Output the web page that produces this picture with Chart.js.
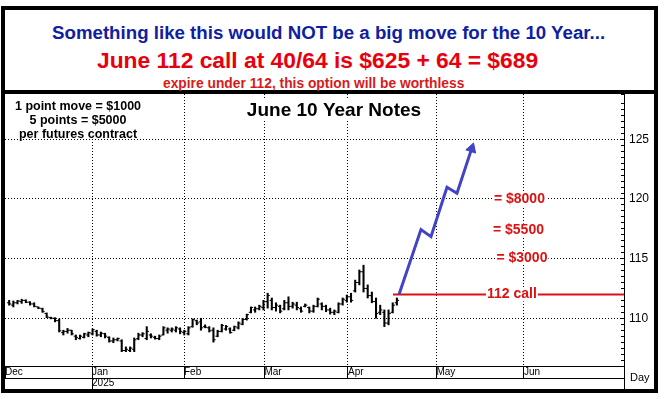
<!DOCTYPE html>
<html>
<head>
<meta charset="utf-8">
<script src="https://cdn.jsdelivr.net/npm/chart.js@4.4.1/dist/chart.umd.min.js"></script>
<style>
  html, body { margin: 0; padding: 0; background: #fff; }
  body { width: 666px; height: 399px; position: relative; overflow: hidden; font-family: "Liberation Sans", Arial, sans-serif; }
  #frame { position: absolute; left: 1px; top: 6px; width: 649px; height: 379px; border: 4px solid #000; }
  #head { position: absolute; left: 0; top: 0; width: 649px; height: 80px; border-bottom: 4px solid #000; }
  .hl { position: absolute; white-space: nowrap; font-weight: bold; }
  #l1 { left: 47px; top: 14px; font-size: 18.7px; line-height: 18.7px; color: #1020a0; }
  #l2 { left: 92px; top: 39px; font-size: 22.8px; line-height: 22.8px; color: #e8000c; }
  #l3 { left: 158px; top: 67px; font-size: 13.8px; line-height: 13.8px; color: #d61a1a; }
  #c { position: absolute; left: 0; top: 84px; }
  #day { position: absolute; left: 625px; top: 362px; font-size: 11px; line-height: 11px; color: #000; }
</style>
</head>
<body>
<div id="frame">
  <div id="head">
    <div class="hl" id="l1">Something like this would NOT be a big move for the 10 Year...</div>
    <div class="hl" id="l2">June 112 call at 40/64 is $625 + 64 = $689</div>
    <div class="hl" id="l3">expire under 112, this option will be worthless</div>
  </div>
  <canvas id="c" width="649" height="295"></canvas>
  <div id="day">Day</div>
</div>
<script>
// daily bars, Dec 2024 .. mid Apr 2025
const opens = [111.3, 111.1, 111.3, 111.4, 111.5, 111.35, 111.2, 110.95, 110.8, 110.4, 110.05, 110.0, 109.8, 108.8, 108.9, 109.0, 108.5, 108.3, 108.4, 108.6, 108.7,
  108.9, 108.6, 108.7, 108.4, 108.1, 108.2, 108.1, 107.3, 107.3, 107.4, 108.3, 108.6, 108.3, 108.6, 108.4, 108.3, 108.6, 109.0, 109.0, 109.0, 109.1,
  108.8, 108.7, 109.3, 109.8, 109.7, 109.3, 109.2, 109.0, 108.5, 108.9, 109.1, 109.1, 109.0, 109.2, 109.5, 109.9, 110.5, 110.7, 110.8,
  110.9, 111.4, 111.5, 110.9, 111.0, 110.8, 111.3, 111.0, 111.1, 110.8, 111.0, 110.9, 110.6, 111.0, 111.2, 111.0, 110.7, 110.5, 110.5, 111.2, 111.5,
  111.8, 112.3, 113.0, 113.9, 112.5, 111.9, 111.4, 110.5, 110.5, 109.6, 110.5, 111.3];
const highs = [111.5, 111.45, 111.5, 111.6, 111.55, 111.4, 111.3, 110.95, 110.85, 110.45, 110.1, 110.05, 109.95, 109.0, 109.15, 109.0, 108.6, 108.6, 108.75, 108.85, 109.1,
  109.0, 108.85, 108.75, 108.45, 108.35, 108.35, 108.2, 107.6, 107.6, 108.35, 108.75, 108.8, 109.3, 108.7, 108.5, 108.6, 109.3, 109.2, 109.2, 109.3, 109.2,
  109.0, 109.3, 109.95, 109.85, 110.0, 109.45, 109.3, 109.2, 109.0, 109.5, 109.4, 109.2, 109.35, 109.7, 110.0, 110.35, 110.95, 110.95, 111.1,
  111.5, 112.1, 111.7, 111.3, 111.1, 111.5, 111.8, 111.35, 111.35, 110.95, 111.2, 110.95, 111.1, 111.7, 111.3, 111.1, 110.85, 110.7, 111.3, 111.7, 111.95,
  112.1, 113.2, 114.05, 114.45, 112.8, 112.2, 111.7, 111.1, 110.7, 110.7, 111.3, 111.7];
const lows = [111.1, 110.95, 111.2, 111.25, 111.3, 111.1, 110.95, 110.8, 110.5, 110.05, 109.95, 109.7, 108.85, 108.6, 108.75, 108.6, 108.2, 108.25, 108.35, 108.45, 108.6,
  108.5, 108.45, 108.35, 108.0, 107.95, 108.1, 107.2, 107.2, 107.2, 107.2, 108.2, 108.45, 108.2, 108.35, 108.25, 108.2, 108.6, 108.75, 108.85, 108.85, 108.7,
  108.6, 108.6, 109.25, 109.45, 109.0, 109.2, 108.85, 108.0, 108.45, 108.85, 109.0, 108.75, 108.95, 109.1, 109.45, 109.85, 110.45, 110.5, 110.7,
  110.7, 110.85, 110.7, 110.6, 110.45, 110.7, 110.7, 110.85, 110.7, 110.5, 110.95, 110.45, 110.5, 110.95, 110.7, 110.55, 110.35, 110.3, 110.45, 111.1, 111.35,
  111.35, 112.2, 112.8, 112.2, 111.7, 111.3, 110.0, 110.3, 109.3, 109.45, 110.45, 111.1];
const closes = [111.2, 111.3, 111.45, 111.5, 111.35, 111.2, 111.0, 110.85, 110.55, 110.1, 110.0, 109.8, 108.95, 108.9, 109.0, 108.7, 108.4, 108.5, 108.7, 108.8, 109.05,
  108.6, 108.75, 108.5, 108.1, 108.2, 108.3, 107.3, 107.4, 107.5, 108.2, 108.6, 108.7, 108.9, 108.5, 108.3, 108.5, 109.2, 109.1, 109.1, 109.2, 108.9,
  108.9, 109.2, 109.9, 109.6, 109.2, 109.25, 108.95, 108.2, 108.9, 109.4, 109.3, 108.8, 109.3, 109.6, 109.9, 110.3, 110.9, 110.8, 111.0,
  111.4, 111.9, 110.9, 111.1, 110.6, 111.3, 111.0, 111.2, 110.9, 110.6, 111.1, 110.6, 111.0, 111.6, 111.0, 110.7, 110.5, 110.6, 111.2, 111.6, 111.8,
  111.5, 113.0, 113.9, 112.5, 111.9, 111.4, 110.4, 110.7, 109.6, 110.4, 111.1, 111.5];

const monthTicks = [-1, 19.87, 41.94, 61.24, 81.27, 102.5, 123.49];
const monthLabels = ["Dec", "Jan", "Feb", "Mar", "Apr", "May", "Jun"];
const yearTicks = [19.87];
const yearLabels = ["2025"];
const xMin = -1, xMax = 147.48, yMin = 106, yMax = 128.8;

const callStrike = 112;
const callLineX = [92.07, xMax];
const arrowX = [93.51, 98.78, 101.18, 105.02, 107.42, 110.94];
const arrowY = [112, 117.44, 116.84, 120.98, 120.48, 124.22];
const payoffLevels = [120, 117.35, 115.05];
const payoffLabels = ["= $8000", "= $5500", "= $3000"];
const noteLines = ["1 point move = $1000", "5 points = $5000", "per futures contract"];
const chartTitle = "June 10 Year Notes";

const FAM = '"Liberation Sans", Arial, sans-serif';
const RED = "#dd1111", BLUE = "#4343c6";
Chart.defaults.font.family = FAM;

const notes = {
  id: "notes",
  afterDatasetsDraw(chart) {
    const { ctx, chartArea: a, scales: { x, y } } = chart;
    ctx.save();
    ctx.fillStyle = "#fff";
    ctx.fillRect(a.left, a.top, 145, 43);
    ctx.fillStyle = "#000";
    ctx.font = "bold 12.5px " + FAM;
    ctx.textAlign = "center";
    ctx.textBaseline = "alphabetic";
    noteLines.forEach((t, i) => ctx.fillText(t, a.left + 73, a.top + 15.5 + i * 14));

    ctx.font = "bold 19px " + FAM;
    const tw = ctx.measureText(chartTitle).width;
    ctx.fillStyle = "#fff";
    ctx.fillRect(a.left + 329 - tw / 2 - 2, a.top + 6, tw + 4, 20);
    ctx.fillStyle = "#000";
    ctx.fillText(chartTitle, a.left + 329, a.top + 22);

    ctx.font = "bold 14px " + FAM;
    ctx.textBaseline = "middle";
    const lab = (t, px, py) => {
      const w = ctx.measureText(t).width;
      ctx.fillStyle = "#fff";
      ctx.fillRect(px - w / 2 - 1, py - 7, w + 2, 14);
      ctx.fillStyle = RED;
      ctx.fillText(t, px, py);
    };
    lab("112 call", x.getPixelForValue(120.6), y.getPixelForValue(callStrike));
    const at = [122.4, 122.17, 123.0];
    payoffLabels.forEach((t, i) => lab(t, x.getPixelForValue(at[i]), y.getPixelForValue(payoffLevels[i])));
    ctx.restore();
  }
};

const bars = highs.map((h, i) => ({ x: i, y: [lows[i], h] }));
const openPts = opens.map((v, i) => ({ x: i, y: v }));
const closePts = closes.map((v, i) => ({ x: i, y: v }));
const arrowPts = arrowX.map((v, i) => ({ x: v, y: arrowY[i] }));
const callPts = callLineX.map((v) => ({ x: v, y: callStrike }));

const isMajor = (v) => Math.abs(v / 5 - Math.round(v / 5)) < 1e-6;

new Chart(document.getElementById("c"), {
  type: "bar",
  data: {
    datasets: [
      {
        type: "line", data: arrowPts, borderColor: BLUE, borderWidth: 3, tension: 0,
        pointStyle: "triangle",
        pointRadius: (c) => (c.dataIndex === arrowPts.length - 1 ? 6 : 0),
        pointRotation: (c) => {
          const n = arrowX.length, sx = c.chart.scales.x, sy = c.chart.scales.y;
          const dx = sx.getPixelForValue(arrowX[n - 1]) - sx.getPixelForValue(arrowX[n - 2]);
          const dy = sy.getPixelForValue(arrowY[n - 1]) - sy.getPixelForValue(arrowY[n - 2]);
          return (Math.atan2(dx, -dy) * 180) / Math.PI;
        },
        pointBackgroundColor: BLUE, pointBorderColor: BLUE, pointBorderWidth: 1,
      },
      { type: "line", data: callPts, borderColor: RED, borderWidth: 2, pointRadius: 0 },
      { type: "bar", data: bars, backgroundColor: "#000", barThickness: 1.4, borderWidth: 0 },
      { type: "scatter", data: openPts, pointStyle: "dash", pointRotation: 180, pointRadius: 2.2,
        borderColor: "#000", pointBorderColor: "#000", pointBorderWidth: 1 },
      { type: "scatter", data: closePts, pointStyle: "dash", pointRotation: 0, pointRadius: 2.2,
        borderColor: "#000", pointBorderColor: "#000", pointBorderWidth: 1 },
    ],
  },
  options: {
    responsive: false,
    devicePixelRatio: 1,
    animation: false,
    layout: { padding: 0, autoPadding: false },
    plugins: { legend: { display: false }, tooltip: { enabled: false } },
    scales: {
      x: {
        type: "linear", position: "bottom", min: xMin, max: xMax, offset: false, weight: 0,
        afterBuildTicks: (s) => { s.ticks = monthTicks.concat([xMax]).map((v) => ({ value: v })); },
        afterFit: (s) => { s.height = 12; s.paddingLeft = 0; s.paddingRight = 0; },
        grid: {
          offset: false, lineWidth: 1, tickLength: 12, tickColor: "#000", tickBorderDash: [],
          color: (c) => (c.index > 0 && c.index < monthTicks.length ? "#000" : "rgba(0,0,0,0)"),
        },
        border: { display: true, color: "#000", width: 1, dash: [1, 2] },
        ticks: {
          autoSkip: false, maxRotation: 0, minRotation: 0, align: "start", padding: -12,
          color: "#000", font: { size: 10 },
          callback: (v, i) => monthLabels[i] || "",
        },
      },
      x2: {
        type: "linear", position: "bottom", min: xMin, max: xMax, offset: false, weight: 1,
        afterBuildTicks: (s) => { s.ticks = yearTicks.concat([xMax]).map((v) => ({ value: v })); },
        afterFit: (s) => { s.height = 11; s.paddingLeft = 0; s.paddingRight = 0; },
        grid: { offset: false, drawOnChartArea: false, tickLength: 11, tickColor: "#000", color: "#000", tickBorderDash: [] },
        border: { display: true, color: "#000", width: 1 },
        ticks: {
          autoSkip: false, maxRotation: 0, minRotation: 0, align: "start", padding: -12,
          color: "#000", font: { size: 10 },
          callback: (v, i) => yearLabels[i] || "",
        },
      },
      y: {
        position: "right", min: yMin, max: yMax,
        afterFit: (s) => { s.width = 30; s.paddingTop = 0; s.paddingBottom = 0; },
        grid: {
          tickLength: -3, tickColor: "#000", tickBorderDash: [],
          color: (c) => (c.tick && isMajor(c.tick.value) ? "#000" : "rgba(0,0,0,0)"),
        },
        border: { display: true, color: "#000", width: 1, dash: [1, 2] },
        ticks: {
          autoSkip: false, stepSize: 0.5, padding: 8, color: "#000", font: { size: 12 },
          callback: (v) => (isMajor(v) ? String(v) : []),
        },
      },
    },
  },
  plugins: [notes],
});
</script>
</body>
</html>
